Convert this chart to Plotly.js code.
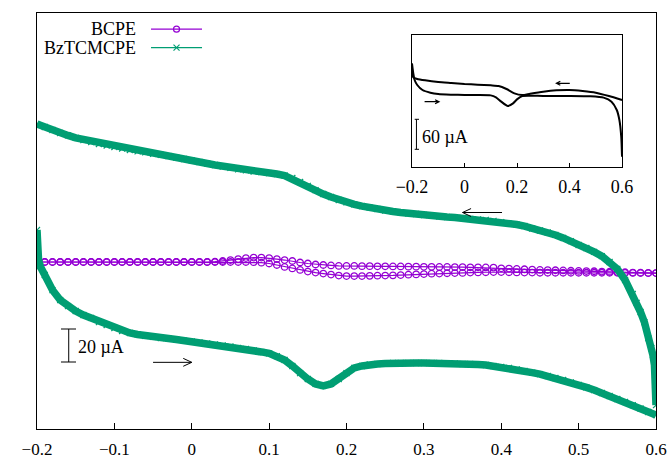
<!DOCTYPE html>
<html>
<head>
<meta charset="utf-8">
<script src="https://cdn.plot.ly/plotly-3.0.1.min.js"></script>
<style>html,body{margin:0;padding:0;background:#fff;}#chart{width:672px;height:458px;}</style>
</head>
<body>
<div id="chart"></div>
<script>
// Potential grid (V)
const potentialGrid = [-0.20,-0.19,-0.18,-0.17,-0.16,-0.15,-0.14,-0.13,-0.12,-0.11,-0.10,-0.09,-0.08,-0.07,-0.06,-0.05,-0.04,-0.03,-0.02,-0.01,
 0.00,0.01,0.02,0.03,0.04,0.05,0.06,0.07,0.08,0.09,0.10,0.11,0.12,0.13,0.14,0.15,0.16,0.17,0.18,0.19,
 0.20,0.21,0.22,0.23,0.24,0.25,0.26,0.27,0.28,0.29,0.30,0.31,0.32,0.33,0.34,0.35,0.36,0.37,0.38,0.39,
 0.40,0.41,0.42,0.43,0.44,0.45,0.46,0.47,0.48,0.49,0.50,0.51,0.52,0.53,0.54,0.55,0.56,0.57,0.58,0.59,0.60];
const potentialGridRev = potentialGrid.slice().reverse();

// BCPE (µA) forward scan (-0.2 -> 0.6)
const bcpeForward = [0.6,0.6,0.6,0.6,0.6,0.6,0.6,0.6,0.6,0.6,0.6,0.6,0.6,0.6,0.6,0.6,0.6,0.6,0.6,0.6,
 0.6,0.6,0.6,0.6,0.6,0.6,0.6,0.6,0.5,0.2,-0.3,-1.2,-2.4,-3.3,-4.2,-5.2,-5.8,-6.4,-7.0,-7.6,
 -7.9,-7.9,-7.9,-7.8,-7.7,-7.6,-7.5,-7.3,-7.1,-6.9,-6.7,-6.5,-6.4,-6.2,-6.1,-6.0,-5.8,-5.7,-5.6,-5.5,
 -5.5,-5.6,-5.7,-5.8,-5.8,-5.9,-5.9,-5.9,-5.9,-5.9,-5.9,-5.9,-5.9,-5.9,-5.9,-5.9,-6.0,-6.0,-6.0,-6.1,-6.1];
// BCPE (µA) reverse scan (0.6 -> -0.2)
const bcpeReverse = [-6.1,-6.0,-5.9,-5.8,-5.6,-5.5,-5.3,-5.2,-5.0,-4.9,-4.8,-4.7,-4.5,-4.4,-4.3,-4.2,-4.0,-3.8,-3.6,-3.4,
 -3.2,-2.8,-2.7,-2.6,-2.6,-2.5,-2.5,-2.4,-2.4,-2.3,-2.3,-2.2,-2.2,-2.1,-2.1,-2.0,-2.0,-1.9,-1.9,-1.8,
 -1.8,-1.8,-1.5,-1.2,-0.9,-0.3,0.3,1.2,1.8,2.4,3.0,3.3,3.3,3.0,2.4,1.8,1.2,0.8,0.6,0.6,
 0.6,0.6,0.6,0.6,0.6,0.6,0.6,0.6,0.6,0.6,0.6,0.6,0.6,0.6,0.6,0.6,0.6,0.6,0.6,0.6,0.6];

// BzTCMCPE forward scan
const bzFwdPotential = [-0.2,-0.2,-0.2,-0.2,-0.199,-0.198,-0.196,
 -0.19,-0.18,-0.17,-0.16,-0.15,-0.14,-0.13,-0.12,-0.11,-0.10,-0.09,-0.08,-0.07,-0.06,-0.05,-0.04,-0.03,-0.02,-0.01,
 0.00,0.01,0.02,0.03,0.04,0.05,0.06,0.07,0.08,0.09,0.10,0.11,0.12,0.13,0.14,0.15,0.16,0.17,0.18,0.19,
 0.20,0.21,0.22,0.23,0.24,0.25,0.26,0.27,0.28,0.29,0.30,0.31,0.32,0.33,0.34,0.35,0.36,0.37,0.38,0.39,
 0.40,0.41,0.42,0.43,0.44,0.45,0.46,0.47,0.48,0.49,0.50,0.51,0.52,0.53,0.54,0.55,0.56,0.57,0.58,0.59,0.60];
const bzFwdCurrent = [20.0,16.4,12.7,9.1,5.5,1.8,-1.8,
 -7.3,-16.4,-22.4,-26.1,-29.1,-31.5,-33.3,-35.8,-37.6,-39.4,-41.2,-42.4,-43.3,-44.2,-44.8,-45.5,-45.8,-46.4,-47.0,
 -47.6,-48.2,-48.8,-49.4,-50.0,-50.6,-51.5,-52.1,-53.0,-53.9,-54.8,-56.4,-58.8,-62.4,-66.7,-70.3,-73.3,-74.5,-73.3,-70.3,
 -66.7,-63.6,-62.4,-61.5,-61.2,-60.9,-60.6,-60.6,-60.6,-60.6,-60.6,-60.6,-60.6,-60.9,-60.9,-61.2,-61.2,-61.5,-61.8,-62.4,
 -63.0,-63.6,-64.5,-65.4,-66.4,-67.3,-68.5,-69.7,-70.9,-72.4,-73.9,-75.4,-77.0,-78.8,-80.6,-82.4,-84.2,-86.1,-88.2,-90.3,-92.1];

// BzTCMCPE reverse scan
const bzRevPotential = [0.6,0.6,0.599,0.599,0.598,0.596,0.594,0.59,0.585,0.58,0.575,0.57,
 0.56,0.55,0.54,0.53,0.52,0.51,0.50,0.49,0.48,0.47,0.46,0.45,0.44,0.43,0.42,0.41,0.40,0.39,0.38,0.37,
 0.36,0.35,0.34,0.33,0.32,0.31,0.30,0.29,0.28,0.27,0.26,0.25,0.24,0.23,0.22,0.21,0.20,0.19,0.18,0.17,
 0.16,0.15,0.14,0.13,0.12,0.11,0.10,0.09,0.08,0.07,0.06,0.05,0.04,0.03,0.02,0.01,0.00,
 -0.01,-0.02,-0.03,-0.04,-0.05,-0.06,-0.07,-0.08,-0.09,-0.10,-0.11,-0.12,-0.13,-0.14,-0.15,-0.16,-0.17,-0.18,-0.19,-0.20];
const bzRevCurrent = [-86.1,-80.0,-73.9,-67.9,-61.8,-55.8,-51.5,-45.5,-35.8,-29.7,-24.2,-18.8,
 -10.3,-3.6,0.6,4.2,6.7,9.1,10.9,13.3,15.2,17.0,18.5,19.7,20.9,22.4,23.3,23.9,24.8,25.5,26.1,26.4,
 26.7,27.3,27.6,27.9,28.2,28.8,29.1,29.7,30.0,30.6,31.2,31.8,32.7,33.6,34.5,35.5,36.7,38.2,40.0,41.8,
 44.2,46.7,49.1,51.5,53.0,53.9,54.5,55.1,55.4,56.1,56.7,57.6,58.5,59.4,60.3,61.2,62.1,
 63.0,63.9,64.8,65.5,66.1,67.0,67.6,68.5,69.4,70.3,71.2,72.1,73.3,74.5,75.8,77.3,78.8,80.6,82.4,84.2];

// Inset CV (µA)
const insetFwdPotential = [-0.2,-0.195,-0.19,-0.18,-0.16,-0.13,-0.1,-0.05,0,0.05,0.1,0.12,0.14,0.165,0.185,0.2,0.22,0.3,0.4,0.48,0.53,0.56,0.58,0.59,0.597,0.6];
const insetFwdCurrent = [63.3,43.3,30,20,10,4.7,2,0.7,0,0,-0.7,-4.7,-13.3,-22,-16.7,-8.7,-2,-2,-2,-2.7,-5.3,-13.3,-30,-50,-83.3,-123.3];
const insetRevPotential = [0.6,0.55,0.5,0.45,0.4,0.35,0.3,0.25,0.22,0.19,0.16,0.13,0.1,0.05,0,-0.05,-0.1,-0.15,-0.18,-0.195,-0.2];
const insetRevCurrent = [-10,-2,4.7,8,10,9.3,6.7,2.7,0,3.3,12,18,19.3,20.7,22,24,26,29.3,32,35.3,50];

const xTicks = [-0.2,-0.1,0,0.1,0.2,0.3,0.4,0.5,0.6];
const insetTicks = [-0.2,0,0.2,0.4,0.6];
const seriesNames = ['BCPE','BzTCMCPE'];

const PURPLE = '#9400D3', GREEN = '#009E73';
const FONT = '"Liberation Serif", "Times New Roman", Times, serif';
const fmt = v => v===0 ? '0' : (v<0 ? '\u2212'+Math.abs(v).toFixed(1) : v.toFixed(1));

const traces = [
  {x: potentialGrid, y: bcpeForward, mode: 'lines+markers', line:{color:PURPLE,width:1.2},
   marker:{symbol:'circle-open', size:6.5, color:PURPLE, line:{width:1.3}}, xaxis:'x', yaxis:'y', showlegend:false},
  {x: potentialGridRev, y: bcpeReverse, mode: 'lines+markers', line:{color:PURPLE,width:1.2},
   marker:{symbol:'circle-open', size:6.5, color:PURPLE, line:{width:1.3}}, xaxis:'x', yaxis:'y', showlegend:false},
  {x: bzFwdPotential, y: bzFwdCurrent, mode: 'lines+markers', line:{color:GREEN,width:7.5},
   marker:{symbol:'x-thin-open', size:6, color:GREEN, line:{width:1.2, color:GREEN}}, xaxis:'x', yaxis:'y', showlegend:false},
  {x: bzRevPotential, y: bzRevCurrent, mode: 'lines+markers', line:{color:GREEN,width:7.5},
   marker:{symbol:'x-thin-open', size:6, color:GREEN, line:{width:1.2, color:GREEN}}, xaxis:'x', yaxis:'y', showlegend:false},
  {x: insetFwdPotential, y: insetFwdCurrent, mode:'lines', line:{color:'#000',width:2, shape:'spline', smoothing:0.6}, xaxis:'x2', yaxis:'y2', showlegend:false},
  {x: insetRevPotential, y: insetRevCurrent, mode:'lines', line:{color:'#000',width:2, shape:'spline', smoothing:0.6}, xaxis:'x2', yaxis:'y2', showlegend:false}
];

// legend geometry in paper coords
const lgTextX = 0.1637, lgY = [0.961, 0.9166], lgX0 = 0.1842, lgX1 = 0.2666, lgMX = 0.2254;

const shapes = [
  {type:'line', xref:'paper', yref:'paper', x0:lgX0, x1:lgX1, y0:lgY[0], y1:lgY[0], line:{color:PURPLE,width:1.2}},
  {type:'line', xref:'paper', yref:'paper', x0:lgX0, x1:lgX1, y0:lgY[1], y1:lgY[1], line:{color:GREEN,width:1.2}},
  {type:'circle', xref:'paper', yref:'paper', xsizemode:'pixel', ysizemode:'pixel', xanchor:lgMX, yanchor:lgY[0],
   x0:-3, x1:3, y0:-3, y1:3, line:{color:PURPLE,width:1.2}},
  {type:'line', xref:'paper', yref:'paper', xsizemode:'pixel', ysizemode:'pixel', xanchor:lgMX, yanchor:lgY[1],
   x0:-3, x1:3, y0:-3, y1:3, line:{color:GREEN,width:1.2}},
  {type:'line', xref:'paper', yref:'paper', xsizemode:'pixel', ysizemode:'pixel', xanchor:lgMX, yanchor:lgY[1],
   x0:-3, x1:3, y0:3, y1:-3, line:{color:GREEN,width:1.2}},
  {type:'line', xref:'x', yref:'y', x0:-0.159, x1:-0.159, y0:-40, y1:-60, line:{color:'#000',width:1}},
  {type:'line', xref:'x', yref:'y', x0:-0.169, x1:-0.1496, y0:-40, y1:-40, line:{color:'#000',width:1}},
  {type:'line', xref:'x', yref:'y', x0:-0.169, x1:-0.1496, y0:-60, y1:-60, line:{color:'#000',width:1}},
  {type:'path', xref:'x', yref:'y', path:'M0.401,30.6 L0.350,30.6 M0.361,33.0 L0.350,30.6 L0.361,28.2', line:{color:'#000',width:1}},
  {type:'path', xref:'x', yref:'y', path:'M-0.050,-60.2 L0.0,-60.2 M-0.011,-57.8 L0.0,-60.2 L-0.011,-62.6', line:{color:'#000',width:1}},
  {type:'line', xref:'x2', yref:'y2', x0:-0.183, x1:-0.183, y0:-48.6, y1:-108.6, line:{color:'#000',width:1}},
  {type:'line', xref:'x2', yref:'y2', x0:-0.1897, x1:-0.1733, y0:-48.6, y1:-48.6, line:{color:'#000',width:1}},
  {type:'line', xref:'x2', yref:'y2', x0:-0.1897, x1:-0.1733, y0:-108.6, y1:-108.6, line:{color:'#000',width:1}},
  {type:'path', xref:'x2', yref:'y2', path:'M0.401,23.4 L0.350,23.4 M0.365,27.4 L0.350,23.4 L0.365,19.4', line:{color:'#000',width:1.2}},
  {type:'path', xref:'x2', yref:'y2', path:'M-0.152,-13.4 L-0.097,-13.4 M-0.112,-9.4 L-0.097,-13.4 L-0.112,-17.4', line:{color:'#000',width:1.2}}
];

const annotations = [
  {xref:'paper', yref:'paper', x:lgTextX, y:lgY[0], xanchor:'right', yanchor:'middle', text:seriesNames[0], showarrow:false, font:{family:FONT,size:18,color:'#000'}},
  {xref:'paper', yref:'paper', x:lgTextX, y:lgY[1], xanchor:'right', yanchor:'middle', text:seriesNames[1], showarrow:false, font:{family:FONT,size:18,color:'#000'}},
  {xref:'x', yref:'y', x:-0.1492, y:-51, xanchor:'left', yanchor:'middle', text:'20 µA', showarrow:false, font:{family:FONT,size:18,color:'#000'}},
  {xref:'x2', yref:'y2', x:-0.1707, y:-84, xanchor:'left', yanchor:'middle', text:'60 µA', showarrow:false, font:{family:FONT,size:18,color:'#000'}}
];

const layout = {
  width: 672, height: 458,
  margin: {l:37, r:16, t:13, b:29, pad:0},
  paper_bgcolor:'#fff', plot_bgcolor:'#fff',
  showlegend:false,
  font:{family:FONT, size:17, color:'#000'},
  xaxis: {range:[-0.2,0.6], tickvals:xTicks, ticktext:xTicks.map(fmt),
    ticks:'inside', ticklen:6, tickwidth:1, tickcolor:'#000', showline:true, linecolor:'#000', linewidth:1.3, mirror:true,
    showgrid:false, zeroline:false, tickfont:{family:FONT,size:17,color:'#000'}, ticklabelstandoff:4, domain:[0,1], anchor:'y', fixedrange:true},
  yaxis: {range:[-100.6,151.5], showticklabels:false, ticks:'', showline:true, linecolor:'#000', linewidth:1.3, mirror:true,
    showgrid:false, zeroline:false, domain:[0,1], anchor:'x', fixedrange:true},
  xaxis2: {range:[-0.2,0.6], tickvals:insetTicks, ticktext:insetTicks.map(fmt),
    ticks:'inside', ticklen:4, tickwidth:1, tickcolor:'#000', showline:true, linecolor:'#000', linewidth:1, mirror:true,
    showgrid:false, zeroline:false, tickfont:{family:FONT,size:18,color:'#000'}, ticklabelstandoff:4, domain:[0.6058,0.9451], anchor:'y2', fixedrange:true},
  yaxis2: {range:[-143.4,120], showticklabels:false, ticks:'', showline:true, linecolor:'#000', linewidth:1, mirror:true,
    showgrid:false, zeroline:false, domain:[0.6305,0.9471], anchor:'x2', fixedrange:true},
  shapes: shapes,
  annotations: annotations
};

Plotly.newPlot('chart', traces, layout, {staticPlot:true, displayModeBar:false});
</script>
</body>
</html>
